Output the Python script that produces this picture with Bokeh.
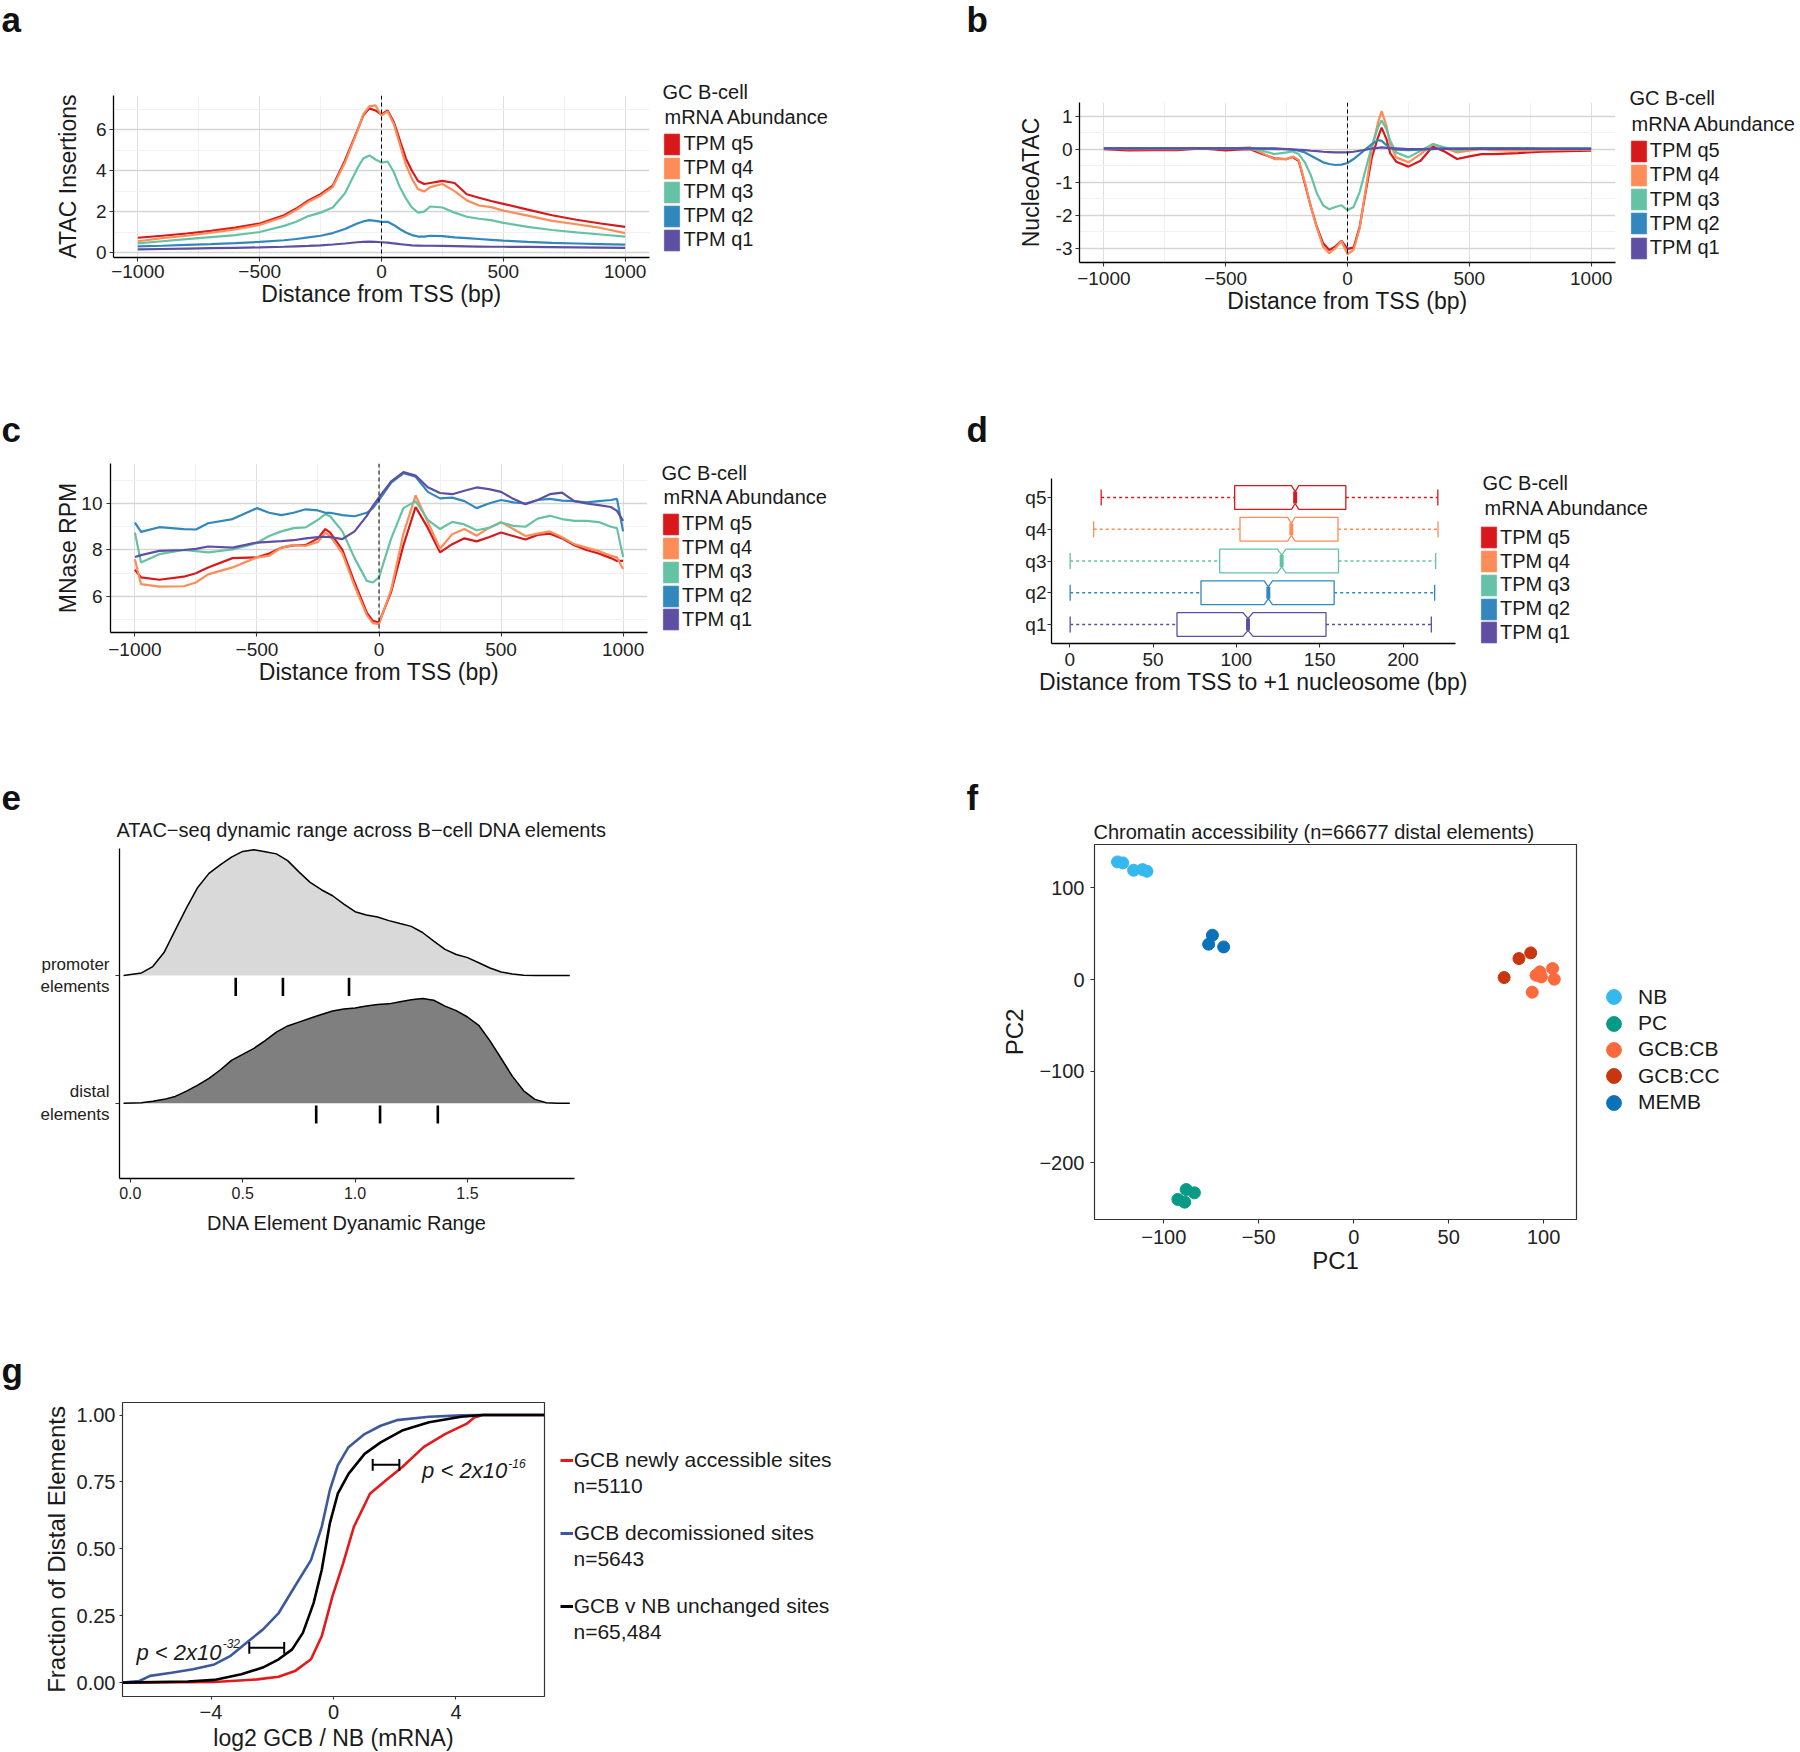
import numpy as np
from bokeh.plotting import figure
from bokeh.models import Range1d, FixedTicker, Label, Legend, LegendItem, Span
from bokeh.layouts import column, row
from bokeh.embed import file_html
from bokeh.resources import INLINE

FONT = "Liberation Sans"
TXT = "#1a1a1a"
M = "\u2212"
NAN1 = np.array([np.nan])
NAN2 = np.array([np.nan, np.nan])

# ---------------- shared categories ----------------
Q_LABELS = ["q5", "q4", "q3", "q2", "q1"]
Q_COLORS = ["#d7191c", "#fc8d59", "#66c2a5", "#3288bd", "#5e4fa2"]
LEGEND_TITLE = ["GC B-cell", "mRNA Abundance"]
TSS_TICKS = [-1000, -500, 0, 500, 1000]
TSS_LABELS = [M + "1000", M + "500", "0", "500", "1000"]

# ---------------- panel a : ATAC insertions ----------------
XA = [-1000, -900, -800, -700, -600, -500, -400, -350, -300, -250, -200, -150,
      -100, -75, -50, -25, 0, 25, 50, 75, 100, 125, 150, 175,
      200, 250, 300, 350, 400, 450, 500, 600, 700, 800, 900, 1000]
A_q5 = [0.72, 0.82, 0.93, 1.06, 1.22, 1.42, 1.82, 2.15, 2.55, 2.85, 3.27, 4.5,
        5.95, 6.7, 7.05, 6.95, 6.75, 6.95, 6.4, 5.5, 4.6, 4.0, 3.5, 3.35,
        3.4, 3.5, 3.4, 2.85, 2.68, 2.52, 2.38, 2.1, 1.82, 1.6, 1.42, 1.25]
A_q4 = [0.55, 0.7, 0.82, 0.97, 1.13, 1.35, 1.75, 2.08, 2.48, 2.78, 3.2, 4.4,
        5.9, 6.75, 7.15, 7.2, 6.7, 6.9, 6.3, 5.3, 4.3, 3.6, 3.1, 2.98,
        3.2, 3.35, 3.0, 2.55, 2.3, 2.22, 2.05, 1.8, 1.55, 1.38, 1.2, 0.95]
A_q3 = [0.45, 0.55, 0.65, 0.75, 0.85, 1.0, 1.3, 1.5, 1.78, 1.95, 2.2, 2.9,
        4.1, 4.6, 4.75, 4.55, 4.4, 4.45, 3.95, 3.2, 2.65, 2.2, 1.95, 2.0,
        2.25, 2.2, 1.95, 1.75, 1.65, 1.58, 1.45, 1.25, 1.1, 0.98, 0.88, 0.78]
A_q2 = [0.3, 0.33, 0.37, 0.41, 0.46, 0.52, 0.6, 0.66, 0.74, 0.82, 0.95, 1.15,
        1.42, 1.52, 1.58, 1.55, 1.5, 1.5, 1.35, 1.15, 0.98, 0.85, 0.78, 0.78,
        0.82, 0.8, 0.74, 0.7, 0.66, 0.62, 0.58, 0.52, 0.47, 0.44, 0.41, 0.38]
A_q1 = [0.15, 0.17, 0.19, 0.21, 0.23, 0.25, 0.28, 0.3, 0.32, 0.35, 0.39, 0.44,
        0.5, 0.52, 0.53, 0.52, 0.5, 0.48, 0.45, 0.41, 0.38, 0.35, 0.34, 0.33,
        0.33, 0.32, 0.31, 0.3, 0.29, 0.28, 0.28, 0.27, 0.26, 0.25, 0.24, 0.23]

# ---------------- panel b : NucleoATAC ----------------
XB = [-1000, -900, -800, -700, -600, -500, -450, -400, -350, -300, -250, -225,
      -200, -175, -150, -125, -100, -75, -50, -25, 0, 25, 50, 75,
      100, 125, 140, 160, 175, 200, 250, 300, 350, 400, 450, 500,
      550, 600, 700, 800, 900, 1000]
B_q5 = [0.0, -0.04, -0.03, -0.03, 0.02, -0.04, -0.02, 0.0, -0.15, -0.28, -0.3, -0.24,
        -0.36, -1.05, -1.75, -2.37, -2.85, -3.05, -2.95, -2.77, -3.02, -2.98, -2.35, -1.28,
        -0.25, 0.35, 0.65, 0.3, -0.12, -0.38, -0.53, -0.35, 0.08, -0.08, -0.3, -0.22,
        -0.15, -0.15, -0.12, -0.08, -0.06, -0.05]
B_q4 = [0.02, 0.0, 0.0, 0.0, 0.03, 0.02, 0.03, 0.05, -0.12, -0.3, -0.3, -0.22,
        -0.33, -1.0, -1.75, -2.4, -2.95, -3.15, -3.0, -2.78, -3.18, -3.05, -2.4, -1.2,
        0.0, 0.8, 1.15, 0.7, 0.15, -0.25, -0.4, -0.15, 0.15, 0.03, -0.1, -0.05,
        0.0, -0.03, -0.05, -0.03, -0.02, -0.02]
B_q3 = [0.02, 0.02, 0.02, 0.02, 0.03, 0.03, 0.02, 0.0, -0.05, -0.15, -0.1, -0.07,
        -0.15, -0.4, -0.8, -1.35, -1.7, -1.82, -1.75, -1.7, -1.85, -1.75, -1.3, -0.6,
        0.1, 0.65, 0.87, 0.6, 0.25, -0.1, -0.25, -0.05, 0.15, 0.05, -0.05, 0.0,
        0.03, 0.02, 0.0, 0.0, 0.0, 0.0]
B_q2 = [0.02, 0.02, 0.02, 0.02, 0.03, 0.02, 0.02, 0.02, 0.01, 0.0, 0.0, -0.02,
        -0.05, -0.1, -0.2, -0.3, -0.4, -0.45, -0.48, -0.47, -0.42, -0.3, -0.15, 0.0,
        0.15, 0.27, 0.25, 0.12, 0.03, -0.02, -0.03, -0.02, 0.0, 0.02, 0.02, 0.02,
        0.03, 0.03, 0.03, 0.02, 0.02, 0.02]
B_q1 = [0.02, 0.02, 0.02, 0.02, 0.02, 0.02, 0.02, 0.02, 0.02, 0.02, 0.0, -0.01,
        -0.02, -0.03, -0.05, -0.06, -0.08, -0.09, -0.1, -0.1, -0.1, -0.08, -0.05, -0.02,
        0.02, 0.04, 0.05, 0.04, 0.03, 0.02, 0.0, 0.0, 0.01, 0.01, 0.01, 0.01,
        0.01, 0.01, 0.01, 0.01, 0.01, 0.01]

# ---------------- panel c : MNase ----------------
XC = [-1000, -975, -900, -800, -750, -700, -600, -500, -450, -400,
      -350, -300, -250, -220, -200, -150, -100, -50, -25, 0,
      50, 100, 150, 200, 250, 300, 350, 400, 450, 500,
      550, 600, 650, 700, 750, 800, 850, 900, 950, 975, 1000]
C_q5 = [7.15, 6.82, 6.72, 6.85, 7.0, 7.25, 7.65, 7.68, 7.85, 8.1,
        8.2, 8.22, 8.5, 8.9, 8.75, 8.0, 6.6, 5.3, 4.95, 4.88,
        6.2, 8.2, 9.85, 8.95, 7.9, 8.25, 8.5, 8.37, 8.55, 8.75,
        8.6, 8.45, 8.65, 8.7, 8.5, 8.2, 8.0, 7.85, 7.65, 7.53, 7.53]
C_q4 = [7.6, 6.53, 6.42, 6.44, 6.6, 6.95, 7.25, 7.68, 7.75, 8.1,
        8.22, 8.18, 8.35, 8.75, 8.6, 7.85, 6.45, 5.2, 4.85, 4.81,
        6.3, 8.7, 10.35, 9.2, 8.05, 8.68, 8.9, 8.61, 8.95, 9.2,
        8.9, 8.6, 8.7, 8.8, 8.55, 8.25, 8.1, 7.95, 7.75, 7.68, 7.18]
C_q3 = [8.75, 7.46, 7.82, 8.0, 7.95, 7.9, 8.02, 8.3, 8.6, 8.8,
        8.94, 8.97, 9.3, 9.54, 9.45, 8.8, 7.65, 6.67, 6.6, 6.82,
        8.5, 9.8, 10.1, 9.3, 8.9, 9.21, 9.1, 8.85, 8.95, 9.18,
        9.04, 9.0, 9.35, 9.47, 9.33, 9.25, 9.25, 9.2, 9.0, 8.94, 7.7]
C_q2 = [9.18, 8.78, 8.98, 8.9, 8.88, 9.15, 9.33, 9.8, 9.6, 9.5,
        9.6, 9.75, 9.7, 9.6, 9.6, 9.5, 9.45, 9.6, 9.8, 10.15,
        10.9, 11.3, 11.15, 10.5, 10.22, 10.25, 10.1, 9.8, 10.0, 10.15,
        10.05, 10.0, 10.15, 10.2, 10.12, 10.1, 10.05, 10.1, 10.15, 10.2, 8.8]
C_q1 = [7.7, 7.78, 7.96, 8.0, 8.05, 8.15, 8.1, 8.32, 8.35, 8.38,
        8.42, 8.5, 8.55, 8.57, 8.55, 8.47, 8.8, 9.47, 9.9, 10.26,
        10.95, 11.35, 11.2, 10.7, 10.45, 10.4, 10.55, 10.69, 10.62, 10.5,
        10.2, 9.97, 10.15, 10.4, 10.47, 10.1, 10.0, 9.93, 9.85, 9.68, 9.25]

# ---------------- panel d : +1 nucleosome boxplots (order q1..q5) ----------------
D_CATS = ["q1", "q2", "q3", "q4", "q5"]
D_COLORS = ["#5e4fa2", "#3288bd", "#66c2a5", "#fc8d59", "#d7191c"]
D_WHISK_LO = [0.3, 0.3, 0.3, 14.4, 18.9]
D_HINGE_LO = [64.4, 78.8, 90.0, 102.2, 99.0]
D_MEDIAN = [107.0, 119.2, 127.2, 133.0, 135.3]
D_HINGE_HI = [153.8, 158.7, 161.3, 161.0, 165.7]
D_WHISK_HI = [217.0, 219.0, 219.6, 221.0, 220.9]
D_NOTCH = [3.0, 2.5, 2.5, 2.2, 2.2]

# ---------------- panel e : ridgelines ----------------
E_X = [-0.03, 0.05, 0.1, 0.15, 0.2, 0.25, 0.3, 0.35, 0.4, 0.45, 0.5, 0.55, 0.6, 0.65,
       0.7, 0.75, 0.8, 0.85, 0.9, 0.95, 1.0, 1.05, 1.1, 1.15, 1.2, 1.25, 1.3, 1.35,
       1.4, 1.45, 1.5, 1.55, 1.6, 1.65, 1.7, 1.75, 1.8, 1.85, 1.9, 1.955]
E_PROMOTER = [0.0, 0.02, 0.07, 0.18, 0.355, 0.53, 0.69, 0.8, 0.866, 0.928, 0.972, 0.985,
              0.97, 0.953, 0.9, 0.812, 0.73, 0.672, 0.625, 0.56, 0.5, 0.474, 0.458,
              0.43, 0.407, 0.385, 0.337, 0.27, 0.205, 0.165, 0.14, 0.1, 0.059, 0.028,
              0.012, 0.002, 0.0, 0.0, 0.0, 0.0]
E_DISTAL = [0.0, 0.003, 0.015, 0.03, 0.053, 0.095, 0.142, 0.195, 0.26, 0.335, 0.382, 0.43,
            0.49, 0.557, 0.605, 0.635, 0.665, 0.695, 0.722, 0.737, 0.746, 0.761, 0.773,
            0.778, 0.795, 0.81, 0.82, 0.806, 0.76, 0.725, 0.675, 0.61, 0.488, 0.35,
            0.21, 0.097, 0.03, 0.003, 0.0, 0.0]
E_PROM_QUANT = [0.469, 0.679, 0.973]
E_DIST_QUANT = [0.827, 1.111, 1.368]
E_TITLE = "ATAC" + M + "seq dynamic range across B" + M + "cell DNA elements"

# ---------------- panel f : PCA ----------------
F_GROUPS = ["NB", "PC", "GCB:CB", "GCB:CC", "MEMB"]
F_COLORS = ["#35b8ee", "#089a85", "#fb6a3c", "#c8360f", "#0b72b9"]
F_PC1 = {"NB": [-124.4, -121.6, -115.9, -111.2, -108.9],
         "PC": [-92.6, -89.0, -88.2, -83.9],
         "GCB:CB": [94.0, 96.0, 98.0, 98.8, 104.7, 105.6],
         "GCB:CC": [79.2, 87.0, 93.2],
         "MEMB": [-74.4, -76.4, -68.5]}
F_PC2 = {"NB": [128.4, 127.3, 119.3, 120.0, 118.2],
         "PC": [-240.0, -243.0, -229.2, -232.8],
         "GCB:CB": [-13.8, 4.7, 8.4, 2.9, 12.0, 0.4],
         "GCB:CC": [2.2, 22.9, 29.1],
         "MEMB": [48.4, 38.6, 35.6]}
F_TITLE = "Chromatin accessibility (n=66677 distal elements)"

# ---------------- panel g : ECDFs ----------------
G_RED_X = [-6.9, -3.89, -2.49, -1.79, -1.26, -0.735, -0.385, -0.035, 0.315, 0.665,
           1.19, 1.715, 2.24, 2.94, 3.64, 4.34, 4.6, 4.87, 6.89]
G_RED_Y = [0.0, 0.002, 0.012, 0.022, 0.043, 0.087, 0.173, 0.322, 0.446, 0.582,
           0.706, 0.756, 0.805, 0.88, 0.929, 0.967, 0.991, 1.0, 1.0]
G_BLUE_X = [-6.9, -6.34, -5.99, -5.29, -4.59, -3.89, -3.36, -2.84, -2.31, -1.79, -1.26,
            -0.735, -0.385, -0.12, 0.14, 0.49, 1.015, 1.54, 2.065, 3.12, 4.17, 4.87, 6.89]
G_BLUE_Y = [0.0, 0.006, 0.025, 0.037, 0.05, 0.068, 0.1, 0.149, 0.198, 0.26, 0.36,
            0.458, 0.582, 0.719, 0.812, 0.88, 0.929, 0.96, 0.981, 0.994, 0.999, 1.0, 1.0]
G_BLACK_X = [-6.9, -4.76, -3.89, -3.01, -2.31, -1.79, -1.35, -1.0, -0.65, -0.385, -0.12,
             0.14, 0.49, 1.015, 1.54, 2.24, 3.12, 4.17, 4.87, 6.89]
G_BLACK_Y = [0.0, 0.004, 0.01, 0.031, 0.056, 0.087, 0.124, 0.186, 0.297, 0.421, 0.595,
             0.706, 0.78, 0.855, 0.898, 0.942, 0.973, 0.994, 1.0, 1.0]
G_SERIES = ["GCB newly accessible sites", "GCB decomissioned sites", "GCB v NB unchanged sites"]
G_COUNTS = ["n=5110", "n=5643", "n=65,484"]
G_COLORS = ["#e3191c", "#3c5a9a", "#000000"]
G_BAR_X0 = [1.28, -2.75]
G_BAR_X1 = [2.15, -1.61]
G_BAR_Y = [0.814, 0.13]
G_PTEXT = ["p < 2x10", "p < 2x10"]
G_PEXP = ["-16", "-32"]


# ======================================================================
def _clean(p):
    p.outline_line_color = None
    p.background_fill_color = "white"
    p.border_fill_color = "white"


class TextFig:
    """A figure whose frame is its whole canvas; data units = page pixels."""

    def __init__(self, x0, y0, x1, y1):
        self.x0, self.y0, self.x1, self.y1 = x0, y0, x1, y1
        p = figure(width=x1 - x0, height=y1 - y0, x_range=Range1d(x0, x1),
                   y_range=Range1d(y1, y0), x_axis_type=None, y_axis_type=None,
                   min_border=0, output_backend="svg", toolbar_location=None, title=None)
        _clean(p)
        self.p = p

    def text(self, x, y, s, size, style="normal", color=TXT, middle=False):
        # y is the text baseline unless middle=True (then it is the visual centre)
        ym = y if middle else y - 0.358 * size
        self.p.add_layout(Label(x=x, y=ym, text=s, text_font=FONT, text_font_size=f"{size}px",
                                text_font_style=style, text_color=color,
                                text_baseline="middle", text_align="left"))

    def letter(self, x, y, s):
        self.text(x, y, s, 35, style="bold", color="#111111")

    def legend_item(self, renderer, label, box_left, cy, gw, gh, size, standoff):
        lg = Legend(items=[LegendItem(label=label, renderers=[renderer])],
                    location=(box_left - self.x0, self.y1 - (cy + gh / 2.0)),
                    glyph_width=gw, glyph_height=gh, label_height=gh, label_width=10,
                    label_standoff=standoff, padding=0, margin=0, spacing=0,
                    border_line_color=None, background_fill_alpha=0,
                    inactive_fill_alpha=0,
                    label_text_font=FONT, label_text_font_size=f"{size}px",
                    label_text_color=TXT)
        self.p.add_layout(lg)


class Pane:
    def __init__(self, frame, canvas, xr, yr):
        L, R, T, B = frame
        cl, ct, cr, cb = canvas
        p = figure(frame_width=R - L, frame_height=B - T,
                   min_border_left=L - cl, min_border_right=cr - R,
                   min_border_top=T - ct, min_border_bottom=cb - B,
                   x_range=Range1d(*xr), y_range=Range1d(*yr),
                   output_backend="svg", toolbar_location=None, title=None)
        _clean(p)
        p.xgrid.visible = False
        p.ygrid.visible = False
        self.p = p

    def axes(self, xticks, xlabels, yticks, ylabels, xtitle, ytitle,
             xtick_fs, ytick_fs, xtitle_fs, ytitle_fs,
             x_std, y_std, xt_std, yt_std, tick_out=4, line_color="black"):
        p = self.p
        for ax, ticks, labels, fs, tfs, title, std, tstd in (
                (p.xaxis[0], xticks, xlabels, xtick_fs, xtitle_fs, xtitle, x_std, xt_std),
                (p.yaxis[0], yticks, ylabels, ytick_fs, ytitle_fs, ytitle, y_std, yt_std)):
            ax.ticker = FixedTicker(ticks=ticks)
            ax.major_label_overrides = dict(zip(ticks, labels))
            ax.axis_line_color = line_color
            ax.axis_line_width = 1.3
            ax.major_tick_line_color = "#333333"
            ax.major_tick_line_width = 1.1
            ax.major_tick_out = tick_out
            ax.major_tick_in = 0
            ax.minor_tick_out = 0
            ax.minor_tick_in = 0
            ax.major_label_text_font = FONT
            ax.major_label_text_font_size = f"{fs}px"
            ax.major_label_text_color = "#222222"
            ax.major_label_standoff = std
            ax.axis_label = title
            ax.axis_label_text_font = FONT
            ax.axis_label_text_font_size = f"{tfs}px"
            ax.axis_label_text_font_style = "normal"
            ax.axis_label_text_color = TXT
            ax.axis_label_standoff = tstd


def tss_grid(pane, yticks, yminor):
    p = pane.p
    p.xgrid.visible = True
    p.ygrid.visible = True
    p.xgrid.ticker = FixedTicker(ticks=TSS_TICKS, minor_ticks=[-750, -250, 250, 750])
    p.ygrid.ticker = FixedTicker(ticks=yticks, minor_ticks=yminor)
    p.xgrid.grid_line_color = "#dedede"
    p.xgrid.grid_line_width = 1.0
    p.xgrid.minor_grid_line_color = "#f1f1f1"
    p.xgrid.minor_grid_line_width = 1.0
    p.ygrid.grid_line_color = "#d5d5d5"
    p.ygrid.grid_line_width = 1.7
    p.ygrid.minor_grid_line_color = "#f1f1f1"
    p.ygrid.minor_grid_line_width = 1.0
    p.add_layout(Span(location=0, dimension="height", line_color="black",
                      line_dash="4 3", line_width=1.0))


def tss_lines(pane, xs, series):
    for ys, col in zip(series, Q_COLORS):
        pane.p.line(xs, ys, line_color=col, line_width=2.2)


def quant_legend(tf, title_x, title_y1, title_y2, box_left, first_cy, pitch):
    tf.text(title_x, title_y1, LEGEND_TITLE[0], 20)
    tf.text(title_x + 2, title_y2, LEGEND_TITLE[1], 20)
    for i, (q, col) in enumerate(zip(Q_LABELS, Q_COLORS)):
        r = tf.p.rect(x=NAN1, y=NAN1, width=1, height=1, fill_color=col, line_color=col,
                      line_alpha=0.7)
        tf.legend_item(r, f"TPM {q}", box_left, first_cy + i * pitch, 19, 26, 20, 2)


def box(p):
    return column(p)


# ---------------- a ----------------
sa = TextFig(0, 0, 960, 80)
sa.letter(1, 32, "a")
pa = Pane((113, 649, 95, 257), (0, 80, 650, 335), (-1100, 1100), (-0.245, 7.68))
tss_grid(pa, [0, 2, 4, 6], [1, 3, 5, 7])
tss_lines(pa, XA, [A_q5, A_q4, A_q3, A_q2, A_q1])
pa.axes(TSS_TICKS, TSS_LABELS, [0, 2, 4, 6], ["0", "2", "4", "6"],
        "Distance from TSS (bp)", "ATAC Insertions", 19, 19, 23, 23, 3, 3, 0, 12)
la = TextFig(650, 80, 960, 335)
quant_legend(la, 662, 99, 124, 662.4, 143.5, 24.0)
block_a = column(box(sa.p), row(box(pa.p), box(la.p)))

# ---------------- b ----------------
sb = TextFig(960, 0, 1800, 80)
sb.letter(966, 32, "b")
pb = Pane((1079, 1615, 102, 262), (960, 80, 1620, 335), (-1100, 1100), (-3.43, 1.41))
tss_grid(pb, [-3, -2, -1, 0, 1], [-2.5, -1.5, -0.5, 0.5])
tss_lines(pb, XB, [B_q5, B_q4, B_q3, B_q2, B_q1])
pb.axes(TSS_TICKS, TSS_LABELS, [-3, -2, -1, 0, 1], ["-3", "-2", "-1", "0", "1"],
        "Distance from TSS (bp)", "NucleoATAC", 19, 19, 23, 23, 5, 3, 0, 9)
lb = TextFig(1620, 80, 1800, 335)
quant_legend(lb, 1629, 105, 130.5, 1628.7, 150.5, 24.25)
block_b = column(box(sb.p), row(box(pb.p), box(lb.p)))

# ---------------- c ----------------
sc = TextFig(0, 335, 960, 455)
sc.letter(1, 442, "c")
pc = Pane((110, 647, 463, 632), (0, 455, 650, 700), (-1100, 1100), (4.45, 11.72))
tss_grid(pc, [6, 8, 10], [5, 7, 9, 11])
tss_lines(pc, XC, [C_q5, C_q4, C_q3, C_q2, C_q1])
pc.axes(TSS_TICKS, TSS_LABELS, [6, 8, 10], ["6", "8", "10"],
        "Distance from TSS (bp)", "MNase RPM", 19, 19, 23, 23, 6, 4, 0, -3)
lc = TextFig(650, 455, 960, 700)
quant_legend(lc, 661, 479.3, 503.3, 661, 523.8, 23.9)
block_c = column(box(sc.p), row(box(pc.p), box(lc.p)))

# ---------------- d ----------------
sd = TextFig(960, 335, 1800, 455)
sd.letter(966, 442, "d")
pd_ = Pane((1051, 1455, 478, 643), (960, 455, 1470, 700), (-10.9, 231.5), (0.4, 5.6))
HW = 0.375
for i, col in enumerate(D_COLORS):
    c = i + 1
    lo, q1, md, q3, hi, nt = (D_WHISK_LO[i], D_HINGE_LO[i], D_MEDIAN[i],
                              D_HINGE_HI[i], D_WHISK_HI[i], D_NOTCH[i])
    xs = [q1, md - nt, md, md + nt, q3, q3, md + nt, md, md - nt, q1]
    ys = [c + HW, c + HW, c + HW / 2, c + HW, c + HW, c - HW, c - HW, c - HW / 2, c - HW, c - HW]
    pd_.p.patch(xs, ys, fill_alpha=0, line_color=col, line_width=1.3)
    pd_.p.segment(x0=[lo, q3], y0=[c, c], x1=[q1, hi], y1=[c, c], line_color=col,
                  line_width=1.4, line_dash="3 3")
    pd_.p.segment(x0=[lo, hi], y0=[c - 0.25, c - 0.25], x1=[lo, hi], y1=[c + 0.25, c + 0.25],
                  line_color=col, line_width=1.3)
    pd_.p.segment(x0=[md], y0=[c - HW / 2], x1=[md], y1=[c + HW / 2], line_color=col,
                  line_width=4)
pd_.axes([0, 50, 100, 150, 200], ["0", "50", "100", "150", "200"], [1, 2, 3, 4, 5], D_CATS,
         "Distance from TSS to +1 nucleosome (bp)", "", 19, 19, 23, 20, 5, 1, 0, 0)
ld = TextFig(1470, 455, 1800, 700)
quant_legend(ld, 1482, 489.3, 514.3, 1479, 537.3, 23.75)
block_d = column(box(sd.p), row(box(pd_.p), box(ld.p)))

# ---------------- e ----------------
se = TextFig(0, 700, 960, 844)
se.letter(1, 810, "e")
se.text(116, 837, E_TITLE, 20)
pe = Pane((119, 574, 848, 1178), (0, 844, 960, 1290), (-0.048, 1.976), (0.41, 2.995))
for base, heights, fill, quants in ((1, E_DISTAL, "#7f7f7f", E_DIST_QUANT),
                                    (2, E_PROMOTER, "#d9d9d9", E_PROM_QUANT)):
    top = [base + h for h in heights]
    pe.p.varea(x=E_X, y1=[base] * len(E_X), y2=top, fill_color=fill)
    pe.p.line(E_X, top, line_color="black", line_width=1.5)
    pe.p.segment(x0=quants, y0=[base - 0.018] * 3, x1=quants, y1=[base - 0.16] * 3,
                 line_color="black", line_width=2.6)
pe.axes([0, 0.5, 1.0, 1.5], ["0.0", "0.5", "1.0", "1.5"], [1, 2],
        ["distal\nelements", "promoter\nelements"],
        "DNA Element Dyanamic Range", "", 16, 17, 20, 20, 4, 6, 10, 0)
block_e = column(box(se.p), box(pe.p))

# ---------------- f ----------------
sf = TextFig(960, 700, 1800, 843)
sf.letter(966, 810, "f")
sf.text(1093, 838.5, F_TITLE, 20)
pf = Pane((1094, 1576, 844, 1219), (960, 843, 1590, 1290), (-136.5, 117.3), (-261.9, 147.4))
pf.p.outline_line_color = "#333333"
pf.p.outline_line_width = 1.2
lf = TextFig(1590, 843, 1800, 1290)
f_cy = [996.7, 1023.3, 1049.3, 1075.7, 1102.0]
for g, col, cy in zip(F_GROUPS, F_COLORS, f_cy):
    pf.p.scatter(F_PC1[g], F_PC2[g], size=12, fill_color=col, line_color=col)
    proxy = lf.p.scatter(x=NAN1, y=NAN1, size=12, fill_color=col, line_color=col)
    lf.legend_item(proxy, g, 1595, cy, 37, 37, 21, 6)
pf.axes([-100, -50, 0, 50, 100], [M + "100", M + "50", "0", "50", "100"],
        [-200, -100, 0, 100], [M + "200", M + "100", "0", "100"],
        "PC1", "PC2", 20, 20, 24, 24, 6, 6, 0, 8, line_color=None)
block_f = column(box(sf.p), row(box(pf.p), box(lf.p)))

# ---------------- g ----------------
sg = TextFig(0, 1290, 850, 1398)
sg.letter(1, 1383, "g")
pg = Pane((122, 544, 1402, 1696), (0, 1398, 559, 1752), (-6.89, 6.89), (-0.052, 1.047))
pg.p.outline_line_color = "#333333"
pg.p.outline_line_width = 1.2
lg_ = TextFig(559, 1398, 850, 1752)
g_cy = [1460, 1533.3, 1606]
for xs, ys, col, name, cnt, cy in zip((G_RED_X, G_BLUE_X, G_BLACK_X),
                                      (G_RED_Y, G_BLUE_Y, G_BLACK_Y),
                                      G_COLORS, G_SERIES, G_COUNTS, g_cy):
    pg.p.line(xs, ys, line_color=col, line_width=2.6)
    proxy = lg_.p.line(x=NAN2, y=NAN2, line_color=col, line_width=3)
    lg_.legend_item(proxy, name, 559.7, cy, 13, 26, 21, 1)
    lg_.text(573, cy + 25, cnt, 21, middle=True)
pg.p.segment(x0=G_BAR_X0, y0=G_BAR_Y, x1=G_BAR_X1, y1=G_BAR_Y, line_color="black", line_width=2)
pg.p.segment(x0=G_BAR_X0 + G_BAR_X1, y0=[y - 0.022 for y in G_BAR_Y * 2],
             x1=G_BAR_X0 + G_BAR_X1, y1=[y + 0.022 for y in G_BAR_Y * 2],
             line_color="black", line_width=2)
for txt, exp, ex, ey, ty in ((G_PTEXT[0], G_PEXP[0], 5.71, 0.818, 0.793),
                             (G_PTEXT[1], G_PEXP[1], -3.62, 0.146, 0.1115)):
    pg.p.add_layout(Label(x=ex - 0.04, y=ty, text=txt, text_font=FONT, text_font_size="22px",
                          text_font_style="italic", text_color=TXT, text_align="right",
                          text_baseline="alphabetic"))
    pg.p.add_layout(Label(x=ex, y=ey, text=exp, text_font=FONT, text_font_size="12px",
                          text_font_style="italic", text_color=TXT, text_align="left",
                          text_baseline="alphabetic"))
pg.axes([-4, 0, 4], [M + "4", "0", "4"], [0, 0.25, 0.5, 0.75, 1.0],
        ["0.00", "0.25", "0.50", "0.75", "1.00"],
        "log2 GCB / NB (mRNA)", "Fraction of Distal Elements", 20, 20, 23, 24, 5, 4, 3, 4,
        tick_out=3, line_color=None)
block_g = column(box(sg.p), row(box(pg.p), box(lg_.p)))

layout = column(row(block_a, block_b), row(block_c, block_d),
                row(block_e, block_f), row(block_g))
open("out.html", "w").write(file_html(layout, INLINE, title="figure"))
